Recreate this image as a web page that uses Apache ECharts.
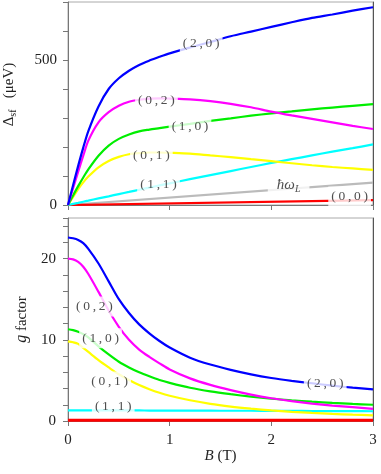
<!DOCTYPE html>
<html>
<head>
<meta charset="utf-8">
<script src="https://cdn.jsdelivr.net/npm/echarts@6.0.0/dist/echarts.min.js"></script>
<style>
html, body { margin: 0; padding: 0; background: #fff; }
#root { width: 381px; height: 474px; }
</style>
</head>
<body>
<div id="root"></div>
<script>
// magnetic field samples (T)
var fieldB = [0, 0.05, 0.1, 0.15, 0.2, 0.3, 0.4, 0.5, 0.6, 0.7, 0.8, 0.9, 1.0, 1.2, 1.4, 1.6, 1.8, 2.0, 2.2, 2.4, 2.6, 2.8, 3.0];
var lineB = [0, 3];

// splitting Delta_sf (ueV), top panel
var delta20 = [0, 68, 135, 198, 255, 340, 400, 437, 463, 483, 498, 511, 523, 543, 562, 582, 598, 614, 630, 645, 657, 670, 682];
var delta02 = [0, 58, 115, 170, 222, 285, 320, 342, 356, 363, 367, 368, 367, 364, 358, 349, 337, 322, 309, 297, 285, 273, 262];
var delta10 = [0, 33, 65, 95, 123, 170, 205, 228, 243, 254, 260, 265, 270, 280, 290, 299, 308, 316, 323, 330, 336, 342, 348];
var delta01 = [0, 28, 55, 78, 98, 130, 152, 166, 175, 179, 181, 181, 180, 177, 171, 165, 158, 151, 144, 137, 131, 126, 121];
var delta11 = [0, 3.8, 7.5, 11.3, 15, 22.6, 30, 37.6, 45, 52.6, 60, 67.5, 74.5, 89, 103, 117, 131, 145, 158, 171, 184, 196, 209];
var larmor = [0, 77];
var delta00 = [0, 17];

// g factors, bottom panel
var g20 = [22.6, 22.5, 22.3, 21.9, 21.2, 19.4, 17.2, 15.0, 13.3, 11.9, 10.8, 9.85, 9.05, 7.8, 6.95, 6.3, 5.75, 5.3, 4.95, 4.65, 4.35, 4.1, 3.9];
var g02 = [20.0, 19.9, 19.6, 19.0, 18.1, 15.9, 13.6, 11.6, 10.0, 8.8, 7.9, 7.1, 6.35, 5.25, 4.45, 3.8, 3.25, 2.8, 2.45, 2.15, 1.9, 1.7, 1.5];
var g10 = [11.3, 11.2, 11.0, 10.7, 10.3, 9.2, 8.2, 7.3, 6.6, 6.0, 5.5, 5.05, 4.7, 4.1, 3.65, 3.3, 3.0, 2.75, 2.55, 2.38, 2.23, 2.1, 2.0];
var g01 = [9.8, 9.7, 9.5, 9.0, 8.5, 7.5, 6.6, 5.75, 5.05, 4.42, 3.91, 3.47, 3.11, 2.55, 2.11, 1.78, 1.52, 1.30, 1.13, 0.99, 0.87, 0.78, 0.70];
var g11 = [1.30, 1.30, 1.30, 1.30, 1.30, 1.30, 1.30, 1.30, 1.30, 1.30, 1.29, 1.29, 1.29, 1.28, 1.27, 1.26, 1.26, 1.25, 1.24, 1.23, 1.22, 1.21, 1.20];
var g00 = [0.1, 0.1];

// curve labels (anchor in data coordinates)
var topLabelText = ['(2,0)', '(0,2)', '(1,0)', '(0,1)', '(1,1)', 'hw', '(0,0)'];
var topLabelB = [1.31, 0.87, 1.20, 0.82, 0.89, 2.17, 2.77];
var topLabelV = [558, 360, 270, 172, 72, 69, 29];
var botLabelText = ['(0,2)', '(1,0)', '(0,1)', '(1,1)', '(2,0)'];
var botLabelB = [0.26, 0.32, 0.41, 0.445, 2.53];
var botLabelV = [14.1, 10.2, 4.85, 1.77, 4.57];

var FONT = 'Liberation Serif';
var TXT = '#222';
var AXIS = '#777';

var pairs = function (xs, ys) {
    return xs.map(function (x, i) { return [x, ys[i]]; });
};
var curve = function (name, color, xs, ys, panel, width) {
    return {
        name: name,
        type: 'line',
        xAxisIndex: panel,
        yAxisIndex: panel,
        data: pairs(xs, ys),
        showSymbol: false,
        smooth: 0.3,
        silent: true,
        lineStyle: { color: color, width: width || 2.2 },
        z: 2
    };
};
var labelSeries = function (texts, xs, ys, panel) {
    return {
        type: 'scatter',
        xAxisIndex: panel,
        yAxisIndex: panel,
        symbolSize: 0,
        silent: true,
        z: 5,
        data: texts.map(function (t, i) {
            var item = { value: [xs[i], ys[i]], name: t };
            if (t === 'hw') item.label = { padding: [2, 9] };
            return item;
        }),
        label: {
            show: true,
            position: 'inside',
            color: TXT,
            fontFamily: FONT,
            fontSize: 13.5,
            backgroundColor: '#fff',
            padding: [3, 3],
            formatter: function (p) {
                if (p.name === 'hw') return '{i|\u0127\u03c9}{s|L}';
                return '{t|' + p.name.split('').join('\u2009') + '}';
            },
            rich: {
                t: { fontFamily: FONT, fontSize: 13.5, color: TXT },
                i: { fontFamily: FONT, fontStyle: 'italic', fontSize: 15, color: TXT },
                s: { fontFamily: FONT, fontStyle: 'italic', fontSize: 10, color: TXT, padding: [9, 0, 0, 0] }
            }
        }
    };
};

var xAxisBase = function (grid, showLabels) {
    return {
        type: 'value',
        gridIndex: grid,
        min: 0,
        max: 3,
        interval: 1,
        splitLine: { show: false },
        axisLine: { show: true, onZero: false, lineStyle: { color: AXIS, width: 1 } },
        axisTick: { show: true, inside: false, length: 5, lineStyle: { color: AXIS } },
        axisLabel: { show: showLabels, margin: 12, color: TXT, fontFamily: FONT, fontSize: 15 }
    };
};

var chart = echarts.init(document.getElementById('root'), null, { renderer: 'canvas' });
var option = {
    backgroundColor: '#fff',
    animation: false,
    grid: [
        { left: 68, right: 8, top: 2, height: 203, show: true, borderColor: '#aaa', borderWidth: 1, outerBoundsMode: 'none', containLabel: false },
        { left: 68, right: 8, top: 218, height: 203, show: true, borderColor: '#aaa', borderWidth: 1, outerBoundsMode: 'none', containLabel: false }
    ],
    xAxis: [
        xAxisBase(0, false),
        Object.assign(xAxisBase(1, true), {
            name: '{b|B} (T)',
            nameLocation: 'middle',
            nameGap: 28,
            nameTextStyle: {
                color: TXT, fontFamily: FONT, fontSize: 15,
                rich: { b: { fontFamily: FONT, fontStyle: 'italic', fontSize: 15, color: TXT } }
            }
        })
    ],
    yAxis: [
        {
            type: 'value',
            gridIndex: 0,
            min: 0,
            max: 700,
            interval: 100,
            splitLine: { show: false },
            axisLine: { show: true, lineStyle: { color: AXIS } },
            axisTick: { show: true, length: 5, lineStyle: { color: AXIS } },
            axisLabel: {
                margin: 11, color: TXT, fontFamily: FONT, fontSize: 15,
                formatter: function (v) { return v % 500 === 0 ? String(v) : ''; }
            },
            name: '\u0394{s|sf}   (\u03bceV)',
            nameLocation: 'middle',
            nameRotate: 90,
            nameGap: 50,
            nameTextStyle: {
                color: TXT, fontFamily: FONT, fontSize: 15,
                padding: [0, 0, 0, 18],
                rich: { s: { fontFamily: FONT, fontSize: 10, color: TXT, padding: [8, 0, 0, 0] } }
            }
        },
        {
            type: 'value',
            gridIndex: 1,
            min: 0,
            max: 25,
            interval: 2,
            splitLine: { show: false },
            axisLine: { show: true, lineStyle: { color: AXIS } },
            axisTick: { show: true, length: 5, lineStyle: { color: AXIS } },
            axisLabel: {
                margin: 12, color: TXT, fontFamily: FONT, fontSize: 15,
                formatter: function (v) { return v % 10 === 0 ? String(v) : ''; }
            },
            name: '{g|g} factor',
            nameLocation: 'middle',
            nameRotate: 90,
            nameGap: 37,
            nameTextStyle: {
                color: TXT, fontFamily: FONT, fontSize: 15,
                rich: { g: { fontFamily: FONT, fontStyle: 'italic', fontSize: 16, color: TXT } }
            }
        },
        {
            type: 'value', gridIndex: 0, position: 'right', min: 0, max: 700,
            splitLine: { show: false }, axisTick: { show: false }, axisLabel: { show: false },
            axisLine: { show: true, lineStyle: { color: '#555' } }
        },
        {
            type: 'value', gridIndex: 1, position: 'right', min: 0, max: 25,
            splitLine: { show: false }, axisTick: { show: false }, axisLabel: { show: false },
            axisLine: { show: true, lineStyle: { color: '#555' } }
        }
    ],
    series: [
        curve('larmor', '#bbbbbb', lineB, larmor, 0),
        curve('(0,0)', '#ff0000', lineB, delta00, 0),
        curve('(1,1)', '#00ffff', fieldB, delta11, 0),
        curve('(0,1)', '#ffff00', fieldB, delta01, 0),
        curve('(1,0)', '#00ee00', fieldB, delta10, 0),
        curve('(0,2)', '#ff00ff', fieldB, delta02, 0),
        curve('(2,0)', '#0000ff', fieldB, delta20, 0),
        curve('g(1,1)', '#00ffff', fieldB, g11, 1),
        curve('g(0,1)', '#ffff00', fieldB, g01, 1),
        curve('g(1,0)', '#00ee00', fieldB, g10, 1),
        curve('g(0,2)', '#ff00ff', fieldB, g02, 1),
        curve('g(2,0)', '#0000ff', fieldB, g20, 1),
        curve('g(0,0)', '#ff0000', lineB, g00, 1, 3),
        labelSeries(topLabelText, topLabelB, topLabelV, 0),
        labelSeries(botLabelText, botLabelB, botLabelV, 1)
    ]
};
chart.setOption(option);
</script>
</body>
</html>
